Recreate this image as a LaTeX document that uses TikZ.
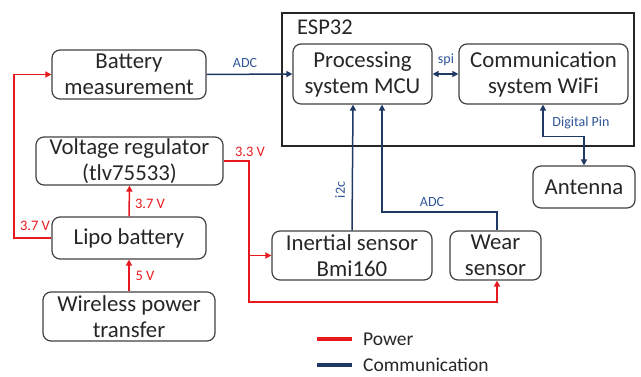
\documentclass[tikz,border=0pt]{standalone}
\usepackage{fontspec}
\setmainfont{Carlito}
\usetikzlibrary{arrows.meta}
\definecolor{pwr}{HTML}{E8191E}
\definecolor{com}{HTML}{203864}
\definecolor{comtxt}{HTML}{2F5597}
\definecolor{txt}{HTML}{262626}
\definecolor{bord}{HTML}{404040}
\tikzset{
  blk/.style={draw=bord, line width=1.2pt, rounded corners=8pt, align=center,
    text=txt, font=\fontsize{22.8}{26}\selectfont, inner sep=0pt},
  pline/.style={draw=pwr, line width=1.5pt, -{Triangle[length=6pt,width=6pt]}},
  cline/.style={draw=com, line width=1.5pt, -{Triangle[length=6pt,width=6pt]}},
  plab/.style={text=pwr, font=\fontsize{14.5}{16}\selectfont, inner sep=0pt},
  clab/.style={text=comtxt, font=\fontsize{14}{15}\selectfont, inner sep=0pt},
}
\begin{document}
\begin{tikzpicture}[x=1pt,y=-1pt]
\useasboundingbox (0,0) rectangle (641,377);
% ESP32 container
\draw[line width=1.8pt, draw=black!85] (282,13) rectangle (634,146);
\node[text=txt, font=\fontsize{22.5}{26}\selectfont, anchor=west, inner sep=0pt] (esp) at (297,27) {ESP32};
% blocks
\node[blk, minimum width=154pt, minimum height=49pt] (bat) at (129,74.5) {Battery\\measurement};
\node[blk, minimum width=187pt, minimum height=48pt] (reg) at (129.5,161) {Voltage regulator\\(tlv75533)};
\node[blk, minimum width=154pt, minimum height=42pt] (lipo) at (129,238) {Lipo battery};
\node[blk, minimum width=172pt, minimum height=49pt] (wpt) at (129,316.5) {Wireless power\\transfer};
\node[blk, minimum width=139pt, minimum height=60pt] (mcu) at (362.5,74) {Processing\\system MCU};
\node[blk, minimum width=169pt, minimum height=60pt] (wifi) at (543.5,74) {Communication\\system WiFi};
\node[blk, minimum width=102pt, minimum height=42pt] (ant) at (584,187) {Antenna};
\node[blk, minimum width=160pt, minimum height=49pt] (imu) at (352,255.5) {Inertial sensor\\Bmi160};
\node[blk, minimum width=91pt, minimum height=49pt] (wear) at (495.5,255.5) {Wear\\sensor};
% communication
\draw[cline] (bat.east) -- (mcu.west);
\node[clab] (adc1) at (245,63) {ADC};
\draw[cline, {Triangle[length=6pt,width=6pt]}-{Triangle[length=6pt,width=6pt]}] (mcu.east) -- (wifi.west);
\node[clab] (spi) at (446,60) {spi};
\coordinate (wb) at ([xshift=-0.5pt]wifi.south);
\draw[cline, {Triangle[length=6pt,width=6pt]}-{Triangle[length=6pt,width=6pt]}] (wb) -- ++(0,32) -| (ant.north);
\node[clab] (dp) at (581,123) {Digital Pin};
\coordinate (mi) at ([xshift=-9.5pt]mcu.south);
\coordinate (ma) at ([xshift=19.5pt]mcu.south);
\draw[cline] (imu.north) -- (mi);
\node[clab, rotate=90] (i2c) at (340,190) {i2c};
\draw[cline] ([xshift=1.5pt]wear.north) -- ++(0,-18.5) -| (ma);
\node[clab] (adc2) at (432,202) {ADC};
% power
\draw[pline] (lipo.north) -- (reg.south);
\node[plab] (v37a) at (150,204) {3.7 V};
\draw[pline] (wpt.north) -- (lipo.south);
\node[plab] (v5) at (145,276) {5 V};
\coordinate (lc) at (14,238);
\draw[pline] (lipo.west) -- (lc) |- (bat.west);
\node[plab] (v37b) at (35,226) {3.7 V};
\coordinate (rc) at (249,161);
\coordinate (rb) at (249,302);
\draw[pline] (reg.east) -- (rc) -- (rb) -| ([xshift=1.5pt]wear.south);
\draw[pline] (rc |- imu.west) -- (imu.west);
\node[plab] (v33) at (250,152) {3.3 V};
% legend
\coordinate (lp1) at (317,339); \coordinate (lp2) at (352,339);
\coordinate (lc1) at (317,365); \coordinate (lc2) at (352,365);
\draw[draw=pwr, line width=4pt] (lp1) -- (lp2);
\draw[draw=com, line width=4pt] (lc1) -- (lc2);
\node[text=txt, font=\fontsize{19.5}{22}\selectfont, anchor=west, inner sep=0pt] (lgp) at (363,339) {Power};
\node[text=txt, font=\fontsize{19.5}{22}\selectfont, anchor=west, inner sep=0pt] (lgc) at (363,365) {Communication};
\end{tikzpicture}
\end{document}
